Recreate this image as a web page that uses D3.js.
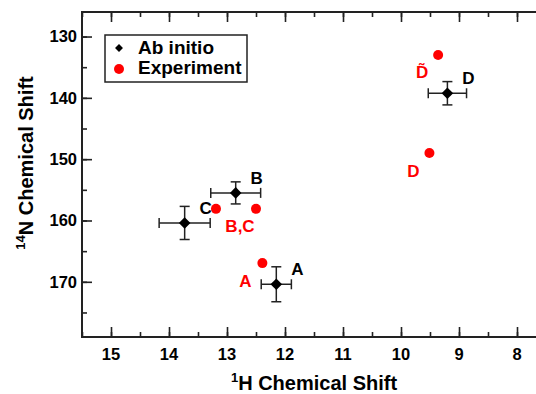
<!DOCTYPE html>
<html>
<head>
<meta charset="utf-8">
<script src="https://cdn.jsdelivr.net/npm/d3@7"></script>
<style>
	body { margin: 0; background: #fff; }
	svg { display: block; font-family: "Liberation Sans", Arial, sans-serif; font-weight: bold; }
</style>
</head>
<body>
<div id="chart"></div>
<script>
// ab initio values with error bars (1H shift, 14N shift)
const calcLabels = ['A', 'B', 'C', 'D'];
const calcH = [12.15, 12.85, 13.73, 9.2];
const calcN = [170.4, 155.5, 160.4, 139.25];
const calcHErr = [0.26, 0.43, 0.44, 0.33];
const calcNErr = [2.85, 1.8, 2.7, 1.9];

// experiment
const expLabels = ['A', 'B,C', '', 'D', 'D\u0303'];
const expH = [12.39, 12.5, 13.19, 9.51, 9.36];
const expN = [166.95, 158.1, 158.1, 149.0, 133.0];

const xTicks = [15, 14, 13, 12, 11, 10, 9, 8];
const yTicks = [130, 140, 150, 160, 170];

const width = 536, height = 394;
const margin = {left: 82, top: 12, right: -10, bottom: 57};
const innerW = width - margin.left - margin.right;
const innerH = height - margin.top - margin.bottom;

const x = d3.scaleLinear().domain([15.5, 7.5]).range([0, innerW]);
const y = d3.scaleLinear().domain([126, 179]).range([0, innerH]);

const svg = d3.select('#chart').append('svg')
	.attr('width', width)
	.attr('height', height);

const g = svg.append('g')
	.attr('transform', `translate(${margin.left},${margin.top})`);

const minorX = d3.range(15.5, 7.5, -0.5);
const minorY = d3.range(130, 179, 5);

function tickAxis(axis, scale, values, len){
	return axis(scale).tickValues(values).tickSizeInner(len).tickSizeOuter(0).tickFormat('');
}

// minor + major ticks on all four sides (pointing inward)
g.append('g').attr('transform', `translate(0,${innerH})`).call(tickAxis(d3.axisTop, x, minorX, 5));
g.append('g').attr('transform', `translate(0,${innerH})`).call(tickAxis(d3.axisTop, x, xTicks, 10));
g.append('g').call(tickAxis(d3.axisBottom, x, minorX, 5));
g.append('g').call(tickAxis(d3.axisBottom, x, xTicks, 10));
g.append('g').call(tickAxis(d3.axisRight, y, minorY, 5));
g.append('g').call(tickAxis(d3.axisRight, y, yTicks, 10));
g.append('g').attr('transform', `translate(${innerW},0)`).call(tickAxis(d3.axisLeft, y, minorY, 5));
g.append('g').attr('transform', `translate(${innerW},0)`).call(tickAxis(d3.axisLeft, y, yTicks, 10));

g.selectAll('.domain').remove();
g.selectAll('.tick line').attr('stroke', '#222').attr('stroke-width', 1.6);

g.append('rect')
	.attr('width', innerW)
	.attr('height', innerH)
	.attr('fill', 'none')
	.attr('stroke', '#222')
	.attr('stroke-width', 2);

// tick labels
g.selectAll('.xlab')
	.data(xTicks)
	.enter().append('text')
	.attr('x', d => x(d))
	.attr('y', innerH + 23)
	.attr('text-anchor', 'middle')
	.style('font-size', '16.5px')
	.text(d => d);

g.selectAll('.ylab')
	.data(yTicks)
	.enter().append('text')
	.attr('x', -5)
	.attr('y', d => y(d))
	.attr('dy', '0.36em')
	.attr('text-anchor', 'end')
	.style('font-size', '16.5px')
	.text(d => d);

// axis titles
const xt = svg.append('text')
	.attr('x', 314)
	.attr('y', 390)
	.attr('text-anchor', 'middle')
	.style('font-size', '20px');
xt.append('tspan').attr('dy', -8).style('font-size', '13px').text('1');
xt.append('tspan').attr('dy', 8).text('H Chemical Shift');

const yt = svg.append('text')
	.attr('transform', 'translate(33,163) rotate(-90)')
	.attr('text-anchor', 'middle')
	.style('font-size', '20px');
yt.append('tspan').attr('dy', -8).style('font-size', '13px').text('14');
yt.append('tspan').attr('dy', 8).text('N Chemical Shift');

// error bars
const calc = calcLabels.map((l, i) => ({label: l, h: calcH[i], n: calcN[i], he: calcHErr[i], ne: calcNErr[i]}));
const exp = expLabels.map((l, i) => ({label: l, h: expH[i], n: expN[i]}));

const eb = g.append('g').attr('stroke', '#222').attr('stroke-width', 1.5);
calc.forEach(d => {
	const cx = x(d.h), cy = y(d.n);
	const x0 = x(d.h + d.he), x1 = x(d.h - d.he);
	const y0 = y(d.n - d.ne), y1 = y(d.n + d.ne);
	eb.append('line').attr('x1', x0).attr('x2', x1).attr('y1', cy).attr('y2', cy);
	eb.append('line').attr('x1', x0).attr('x2', x0).attr('y1', cy - 5).attr('y2', cy + 5);
	eb.append('line').attr('x1', x1).attr('x2', x1).attr('y1', cy - 5).attr('y2', cy + 5);
	eb.append('line').attr('x1', cx).attr('x2', cx).attr('y1', y0).attr('y2', y1);
	eb.append('line').attr('x1', cx - 5).attr('x2', cx + 5).attr('y1', y0).attr('y2', y0);
	eb.append('line').attr('x1', cx - 5).attr('x2', cx + 5).attr('y1', y1).attr('y2', y1);
});

const diamond = d3.symbol().type(d3.symbolDiamond2).size(85);
g.selectAll('.calc')
	.data(calc)
	.enter().append('path')
	.attr('transform', d => `translate(${x(d.h)},${y(d.n)})`)
	.attr('d', diamond)
	.attr('fill', '#000');

g.selectAll('.exp')
	.data(exp)
	.enter().append('circle')
	.attr('cx', d => x(d.h))
	.attr('cy', d => y(d.n))
	.attr('r', 5)
	.attr('fill', '#ff0000');

// point labels: offsets in px from the point
const calcOff = {A: [21, -9], B: [21, -9], C: [21, -9], D: [21, -9]};
const expOff = {'A': [-17, 24], 'B,C': [-16, 23], 'D': [-16, 24], 'D\u0303': [-16, 23]};

g.selectAll('.clab')
	.data(calc)
	.enter().append('text')
	.attr('x', d => x(d.h) + calcOff[d.label][0])
	.attr('y', d => y(d.n) + calcOff[d.label][1])
	.attr('text-anchor', 'middle')
	.style('font-size', '17px')
	.attr('fill', '#000')
	.text(d => d.label);

g.selectAll('.elab')
	.data(exp.filter(d => d.label))
	.enter().append('text')
	.attr('x', d => x(d.h) + expOff[d.label][0])
	.attr('y', d => y(d.n) + expOff[d.label][1])
	.attr('text-anchor', 'middle')
	.style('font-size', '17px')
	.attr('fill', '#ff0000')
	.text(d => d.label);

// legend
const lg = svg.append('g').attr('transform', 'translate(105,35)');
lg.append('rect')
	.attr('width', 142)
	.attr('height', 47)
	.attr('fill', '#fff')
	.attr('stroke', '#222')
	.attr('stroke-width', 1.5);
lg.append('path')
	.attr('transform', 'translate(14,13)')
	.attr('d', d3.symbol().type(d3.symbolDiamond2).size(40))
	.attr('fill', '#000');
lg.append('circle').attr('cx', 14).attr('cy', 34).attr('r', 5).attr('fill', '#ff0000');
lg.append('text').attr('x', 33).attr('y', 19).style('font-size', '19px').text('Ab initio');
lg.append('text').attr('x', 33).attr('y', 39).style('font-size', '19px').text('Experiment');
</script>
</body>
</html>
